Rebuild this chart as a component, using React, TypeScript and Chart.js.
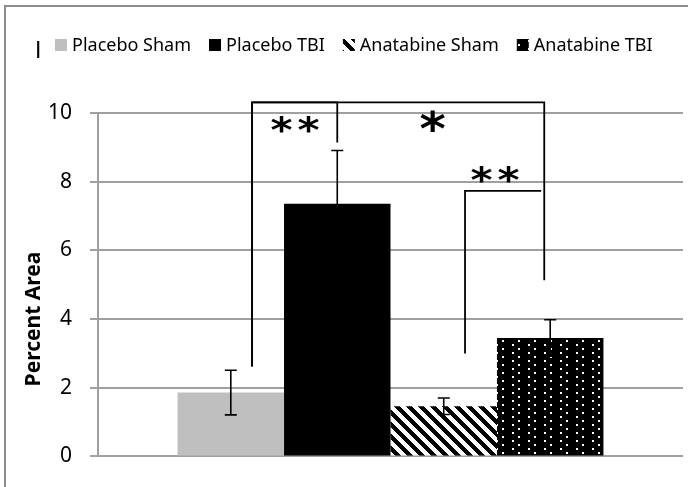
import { useEffect, useRef } from 'react';
import { Chart, registerables } from 'chart.js';
Chart.register(...registerables);

// ---- data ----
const categories = [''];
const seriesLabels = ['Placebo Sham', 'Placebo TBI', 'Anatabine Sham', 'Anatabine TBI'];
const meanValues = [1.86, 7.36, 1.46, 3.45];
const semValues = [0.65, 1.55, 0.24, 0.53];
const yMin = 0;
const yMax = 10;
const yStep = 2;
const yTitle = 'Percent Area';
const cornerMark = 'I';
// significance brackets: from bar, to bar, level (value), leg bottoms (values), label, label value
const bracketFrom = [0, 0, 2];
const bracketTo = [1, 3, 3];
const bracketLevel = [10.31, 10.31, 7.73];
const bracketFromLeg = [2.62, 2.62, 3.0];
const bracketToLeg = [9.14, 5.13, 7.73];
const bracketLabels = ['**', '*', '**'];
const bracketLabelValue = [9.66, 9.78, 8.2];

// ---- styles ----
const gridColor = '#a0a0a0';
const fromOffset = [0.2, 0.2, 0.2]; // fraction of bar width
const toOffset = [0, -0.056, -0.085];
const labelAlong = [0.5, 0.616, 0.39];
const labelInkH = [16.5, 21.5, 16.5];
const labelStretch = [1.2, 1.1, 1.2];
const starPitch = 27;
const FONT = "'Noto Sans', sans-serif";
const STAR_FONT = "'DejaVu Sans', sans-serif";

function stripePattern(): CanvasPattern | string {
  const n = 12;
  const c = document.createElement('canvas');
  c.width = n; c.height = n;
  const g = c.getContext('2d')!;
  g.fillStyle = '#fff';
  g.fillRect(0, 0, n, n);
  g.fillStyle = '#000';
  for (let y = 0; y < n; y++) for (let x = 0; x < n; x++) {
    if ((((x - y) % n) + n) % n < n / 2) g.fillRect(x, y, 1, 1);
  }
  return g.createPattern(c, 'repeat') || '#000';
}

function dotPattern(): CanvasPattern | string {
  const c = document.createElement('canvas');
  c.width = 16; c.height = 8;
  const g = c.getContext('2d')!;
  g.fillStyle = '#000';
  g.fillRect(0, 0, 16, 8);
  g.fillStyle = '#fff';
  g.fillRect(0, 0, 2, 2);
  g.fillRect(6, 4, 2, 2);
  return g.createPattern(c, 'repeat') || '#000';
}

export default function App() {
  const ref = useRef<HTMLCanvasElement | null>(null);
  useEffect(() => {
    if (!ref.current) return;
    const fills = ['#bfbfbf', '#000000', stripePattern(), dotPattern()];

    const decor = {
      id: 'decor',
      beforeDraw(chart: any) {
        const ctx = chart.ctx;
        ctx.save();
        ctx.strokeStyle = '#8c8c8c';
        ctx.lineWidth = 2;
        ctx.beginPath();
        ctx.moveTo(5, 487);
        ctx.lineTo(5, 6);
        ctx.lineTo(688, 6);
        ctx.stroke();
        ctx.restore();
      },
      afterDatasetsDraw(chart: any) {
        const ctx = chart.ctx;
        const ys = chart.scales.y;
        ctx.save();
        ctx.strokeStyle = '#000';
        ctx.lineWidth = 1.6;
        meanValues.forEach((v, i) => {
          const el = chart.getDatasetMeta(i).data[0];
          const x = el.x;
          const t = ys.getPixelForValue(v + semValues[i]);
          const b = ys.getPixelForValue(v - semValues[i]);
          ctx.beginPath();
          ctx.moveTo(x, t); ctx.lineTo(x, b);
          ctx.moveTo(x - 6, t); ctx.lineTo(x + 6, t);
          ctx.moveTo(x - 6, b); ctx.lineTo(x + 6, b);
          ctx.stroke();
        });
        ctx.restore();
      },
      afterDraw(chart: any) {
        const ctx = chart.ctx;
        const ys = chart.scales.y;
        ctx.save();
        // brackets
        ctx.strokeStyle = '#000';
        ctx.lineWidth = 1.8;
        bracketFrom.forEach((f, k) => {
          const ef = chart.getDatasetMeta(f).data[0];
          const et = chart.getDatasetMeta(bracketTo[k]).data[0];
          const x1 = ef.x + fromOffset[k] * ef.width;
          const x2 = et.x + toOffset[k] * et.width;
          const yl = ys.getPixelForValue(bracketLevel[k]);
          const y1 = ys.getPixelForValue(bracketFromLeg[k]);
          const y2 = ys.getPixelForValue(bracketToLeg[k]);
          ctx.beginPath();
          ctx.moveTo(x1, y1); ctx.lineTo(x1, yl); ctx.lineTo(x2, yl); ctx.lineTo(x2, y2);
          ctx.stroke();
          // label
          const lx = x1 + (x2 - x1) * labelAlong[k];
          const ly = ys.getPixelForValue(bracketLabelValue[k]);
          ctx.font = `bold 100px ${STAR_FONT}`;
          (ctx as any).letterSpacing = '0px';
          const m0 = ctx.measureText('*');
          const h0 = m0.actualBoundingBoxAscent + m0.actualBoundingBoxDescent;
          const size = 100 * labelInkH[k] / h0;
          ctx.font = `bold ${size}px ${STAR_FONT}`;
          const adv = ctx.measureText('*').width * labelStretch[k];
          (ctx as any).letterSpacing = `${(starPitch - adv) / labelStretch[k]}px`;
          const m = ctx.measureText(bracketLabels[k]);
          const inkL = -m.actualBoundingBoxLeft;
          const inkR = m.actualBoundingBoxRight;
          const by = ly - (m.actualBoundingBoxDescent - m.actualBoundingBoxAscent) / 2;
          ctx.save();
          ctx.translate(lx, by);
          ctx.scale(labelStretch[k], 1);
          ctx.fillStyle = '#000';
          ctx.textAlign = 'left';
          ctx.textBaseline = 'alphabetic';
          ctx.fillText(bracketLabels[k], -(inkL + inkR) / 2, 0);
          ctx.restore();
          (ctx as any).letterSpacing = '0px';
        });
        // legend
        ctx.font = `18px ${FONT}`;
        ctx.textAlign = 'left';
        ctx.textBaseline = 'alphabetic';
        let x = 55;
        seriesLabels.forEach((lab, i) => {
          ctx.fillStyle = fills[i] as any;
          ctx.fillRect(x, 39, 12, 12);
          x += 17;
          ctx.fillStyle = '#000';
          ctx.fillText(lab, x, 51);
          x += ctx.measureText(lab).width + 18;
        });
        // corner mark
        ctx.font = `23px 'Liberation Sans', sans-serif`;
        ctx.fillStyle = '#000';
        ctx.fillText(cornerMark, 35, 58);
        // y title
        ctx.translate(39.5, 319);
        ctx.rotate(-Math.PI / 2);
        ctx.font = `bold 21px ${FONT}`;
        ctx.textAlign = 'center';
        ctx.fillText(yTitle, 0, 0);
        ctx.restore();
      },
    };

    const chart = new Chart(ref.current, {
      type: 'bar',
      data: {
        labels: categories,
        datasets: seriesLabels.map((lab, i) => ({
          label: lab,
          data: [meanValues[i]],
          backgroundColor: fills[i] as any,
          borderWidth: 0,
          categoryPercentage: 0.728,
          barPercentage: 1,
        })),
      },
      options: {
        responsive: false,
        animation: false,
        layout: { padding: { left: 48, top: 113, right: 5, bottom: 25 } },
        plugins: { legend: { display: false }, tooltip: { enabled: false } },
        scales: {
          x: { display: false },
          y: {
            min: yMin,
            max: yMax,
            ticks: { stepSize: yStep, font: { family: FONT, size: 21 }, color: '#000', padding: 18 },
            grid: { color: gridColor, lineWidth: 2, tickLength: 8, drawTicks: true },
            border: { color: gridColor, width: 2 },
            afterFit: (s: any) => { s.width = 50; },
          },
        },
      },
      plugins: [decor],
    });
    return () => chart.destroy();
  }, []);
  return (
    <div style={{ position: 'fixed', left: 0, top: 0, width: 688, height: 487, background: '#fff' }}>
      <canvas ref={ref} width={688} height={487} style={{ display: 'block' }} />
    </div>
  );
}
